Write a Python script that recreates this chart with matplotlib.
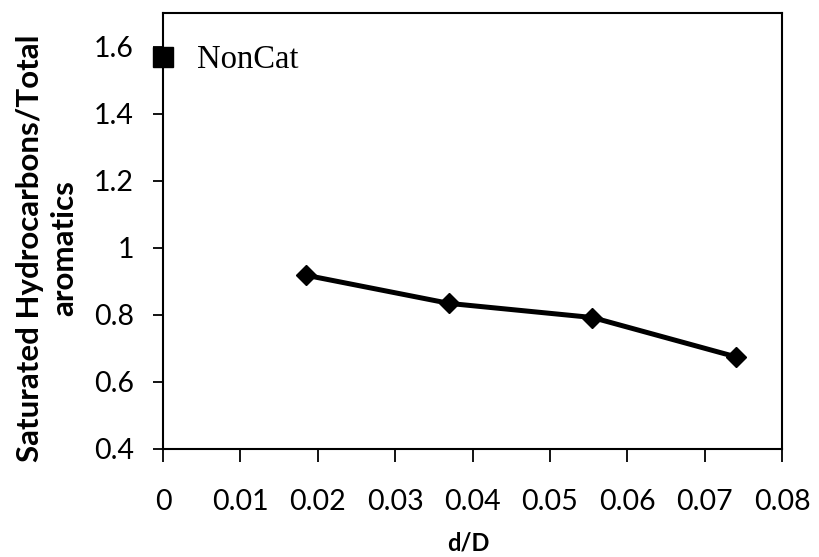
import matplotlib.pyplot as plt

d_over_D = [0.0185, 0.037, 0.0555, 0.074]
sat_ratio = [0.918, 0.834, 0.792, 0.675]
noncat_x = [0.0]
noncat_y = [1.568]
x_ticks = [0, 0.01, 0.02, 0.03, 0.04, 0.05, 0.06, 0.07, 0.08]
x_labels = ["0", "0.01", "0.02", "0.03", "0.04", "0.05", "0.06", "0.07", "0.08"]
y_ticks = [0.4, 0.6, 0.8, 1.0, 1.2, 1.4, 1.6]
y_labels = ["0.4", "0.6", "0.8", "1", "1.2", "1.4", "1.6"]

fig = plt.figure(figsize=(8.2, 5.57), dpi=100)
ax = fig.add_axes([0.1988, 0.1939, 0.9537 - 0.1988, 0.9767 - 0.1939])

ax.plot(d_over_D, sat_ratio, color="black", linewidth=3.6, marker="D",
        markersize=10, clip_on=False, zorder=3)
ax.plot(noncat_x, noncat_y, linestyle="none", marker="s", markersize=14,
        color="black", clip_on=False, zorder=4)
ax.annotate("NonCat", xy=(noncat_x[0], noncat_y[0]), xytext=(24.5, -8),
            textcoords="offset points", family="Liberation Serif",
            fontsize=23.5, va="baseline", ha="left")

ax.set_xlim(0, 0.08)
ax.set_ylim(0.4, 1.7)
ax.set_xticks(x_ticks)
ax.set_xticklabels(x_labels)
ax.set_yticks(y_ticks)
ax.set_yticklabels(y_labels)

for label in ax.get_xticklabels() + ax.get_yticklabels():
    label.set_family("Lato")
    label.set_fontsize(20.5)
ax.tick_params(axis="x", direction="out", length=9, width=1.3, pad=20)
ax.tick_params(axis="y", direction="out", length=7, width=1.3, pad=14)

for spine in ax.spines.values():
    spine.set_linewidth(1.5)

ax.set_xlabel("d/D", family="Lato", fontweight="bold", fontsize=17, va="top")
ax.xaxis.set_label_coords(0.493, -0.19)
ax.set_ylabel("Saturated Hydrocarbons/Total\naromatics", family="Lato",
              fontweight="bold", fontsize=22.5, linespacing=1.25)
ax.yaxis.set_label_coords(-0.137, 0.46)

fig.savefig("out.png", dpi=100)
